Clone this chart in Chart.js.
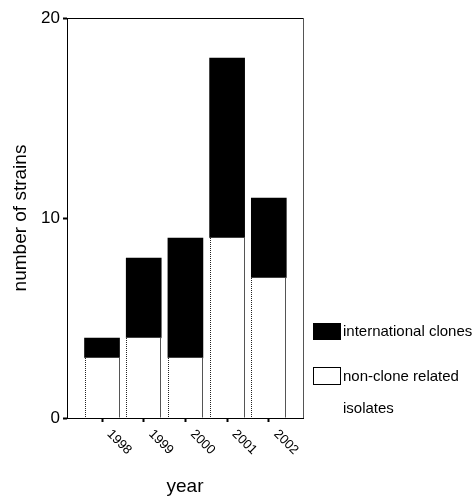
<!DOCTYPE html>
<html>
<head>
<meta charset="utf-8">
<script src="https://cdn.jsdelivr.net/npm/chart.js@4/dist/chart.umd.min.js"></script>
<style>
html,body{margin:0;padding:0;background:#fff;}
#wrap{width:476px;height:499px;position:relative;}
</style>
</head>
<body>
<div id="wrap"><canvas id="c" width="476" height="499"></canvas></div>
<script>
const years = [1998, 1999, 2000, 2001, 2002];
const yearLabels = ['1998', '1999', '2000', '2001', '2002'];
const nonCloneRelated = [3, 4, 3, 9, 7];
const internationalClones = [1, 4, 6, 9, 4];
const yTicks = [0, 10, 20];
const seriesNames = ['international clones', 'non-clone related isolates'];

const FONT = '"Liberation Sans", Arial, sans-serif';

const framePlugin = {
  id: 'frame',
  afterDatasetsDraw(chart) {
    const ctx = chart.ctx;
    const a = chart.chartArea;
    ctx.save();
    const meta = chart.getDatasetMeta(0);
    meta.data.forEach(el => {
      const l = el.x - el.width / 2, r = el.x + el.width / 2;
      ctx.strokeStyle = '#222';
      ctx.lineWidth = 1;
      ctx.setLineDash([1, 1]);
      ctx.beginPath(); ctx.moveTo(Math.round(l) + 0.5, el.y); ctx.lineTo(Math.round(l) + 0.5, el.base); ctx.stroke();
      ctx.setLineDash([]);
      ctx.strokeStyle = '#555';
      ctx.beginPath(); ctx.moveTo(Math.round(r) - 0.5, el.y); ctx.lineTo(Math.round(r) - 0.5, el.base); ctx.stroke();
    });
    ctx.setLineDash([]);
    ctx.strokeStyle = '#000';
    ctx.lineWidth = 1;
    ctx.beginPath();
    ctx.moveTo(a.left, a.top + 0.5); ctx.lineTo(a.right, a.top + 0.5);
    ctx.stroke();
    ctx.strokeStyle = '#555';
    ctx.beginPath();
    ctx.moveTo(a.right + 0.5, a.top); ctx.lineTo(a.right + 0.5, a.bottom);
    ctx.stroke();
    ctx.restore();
  },
  afterDraw(chart) {
    const ctx = chart.ctx;
    const xs = chart.scales.x;
    const a = chart.chartArea;
    ctx.save();
    ctx.fillStyle = '#000';
    ctx.font = '13px ' + FONT;
    ctx.textAlign = 'left';
    ctx.textBaseline = 'middle';
    years.forEach((v, i) => {
      const px = xs.getPixelForValue(v);
      ctx.save();
      ctx.translate(px + 7, a.bottom + 14);
      ctx.rotate(Math.PI / 4);
      ctx.fillText(yearLabels[i], 0, 0);
      ctx.restore();
    });
    ctx.font = '15px ' + FONT;
    ctx.textBaseline = 'middle';
    ctx.fillStyle = '#000';
    ctx.fillRect(313, 323, 28, 17);
    ctx.fillText(seriesNames[0], 343, 332);
    ctx.strokeStyle = '#000';
    ctx.lineWidth = 1;
    ctx.strokeRect(313.5, 367.5, 27, 17);
    const parts = seriesNames[1].split(' ');
    ctx.fillText(parts.slice(0, 2).join(' '), 343, 377);
    ctx.fillText(parts.slice(2).join(' '), 343, 409);
    ctx.restore();
  }
};

new Chart(document.getElementById('c'), {
  type: 'bar',
  data: {
    datasets: [
      {
        label: seriesNames[1],
        data: years.map((y, i) => ({x: y, y: nonCloneRelated[i]})),
        backgroundColor: '#fff',
        borderWidth: 0,
        barThickness: 35
      },
      {
        label: seriesNames[0],
        data: years.map((y, i) => ({x: y, y: internationalClones[i]})),
        backgroundColor: '#000',
        borderWidth: 0,
        barThickness: 35
      }
    ]
  },
  options: {
    responsive: false,
    animation: false,
    devicePixelRatio: 1,
    layout: {padding: {left: 0, top: 18, right: 173, bottom: 0}},
    plugins: {legend: {display: false}, tooltip: {enabled: false}},
    scales: {
      x: {
        type: 'linear',
        stacked: true,
        offset: false,
        min: 1997.16,
        max: 2002.82,
        afterBuildTicks: s => { s.ticks = years.map(v => ({value: v})); },
        afterFit: s => { s.height = 81; },
        ticks: {display: false},
        grid: {offset: false, drawOnChartArea: false, drawTicks: true, tickLength: 4, tickWidth: 2, tickColor: '#000'},
        border: {display: true, color: '#000', width: 1},
        title: {display: true, text: 'year', color: '#000', font: {family: FONT, size: 19}, padding: {top: 0, bottom: 1}}
      },
      y: {
        type: 'linear',
        stacked: true,
        min: 0,
        max: 20,
        afterBuildTicks: s => { s.ticks = yTicks.map(v => ({value: v})); },
        afterFit: s => { s.width = 67; },
        ticks: {color: '#000', font: {family: FONT, size: 17}, padding: 3},
        grid: {drawOnChartArea: false, drawTicks: true, tickLength: 4, tickWidth: 2, tickColor: '#000'},
        border: {display: true, color: '#000', width: 1},
        title: {display: true, text: 'number of strains', color: '#000', font: {family: FONT, size: 19}, padding: {top: 9, bottom: 0}}
      }
    }
  },
  plugins: [framePlugin]
});
</script>
</body>
</html>
